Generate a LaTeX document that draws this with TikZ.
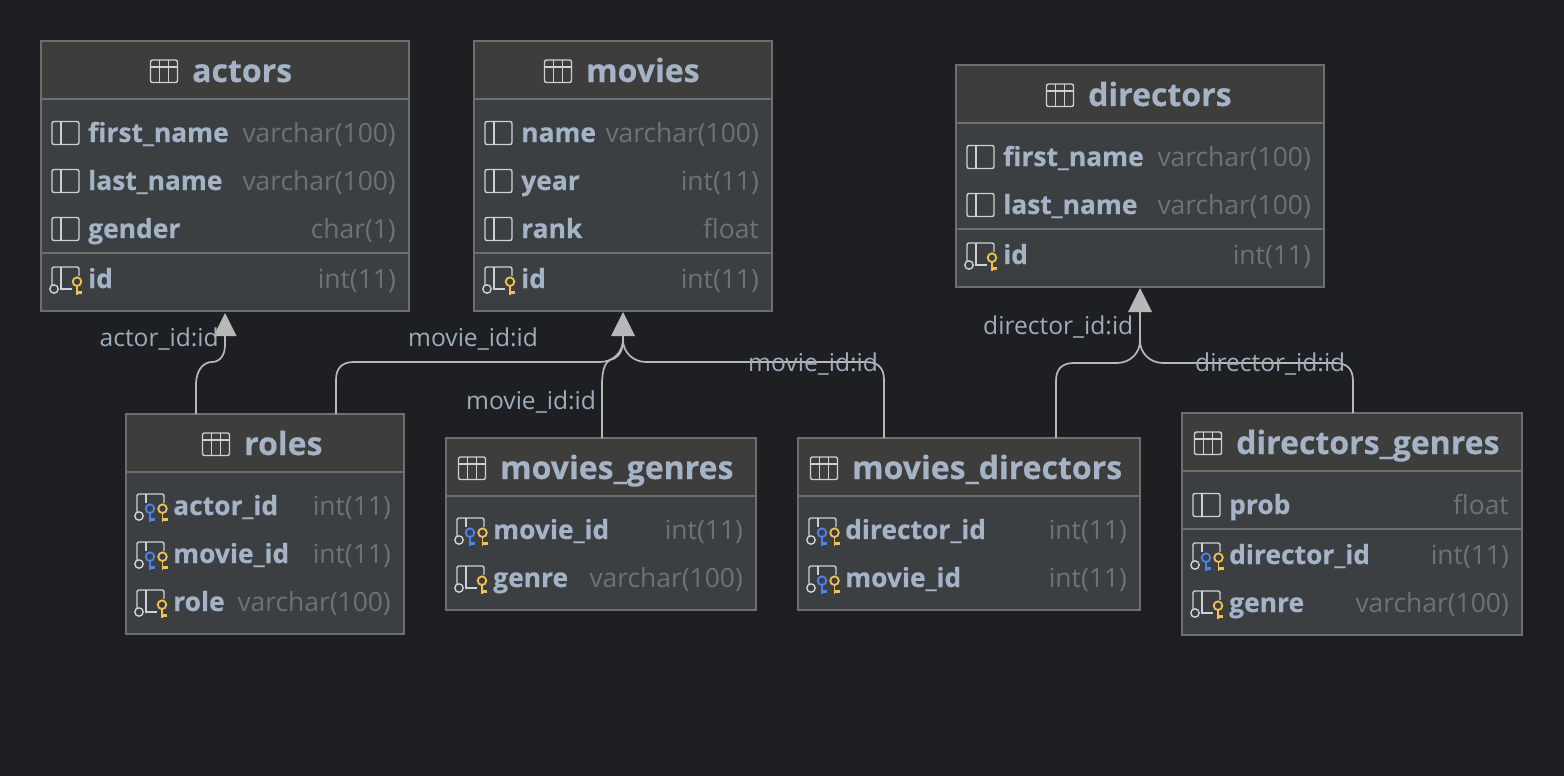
\documentclass[tikz,border=0pt]{standalone}
\usepackage{fontspec}
\setmainfont[BoldFeatures={FakeBold=0.35}]{Open Sans}

\definecolor{bgdark}{HTML}{1E1F22}
\definecolor{bodyfill}{HTML}{3B3F42}
\definecolor{headfill}{HTML}{3D3D3C}
\definecolor{edgegray}{HTML}{6E6E6E}
\definecolor{namecol}{HTML}{A5B3C6}
\definecolor{typecol}{HTML}{6C7279}
\definecolor{iconcol}{HTML}{CDD1D5}
\definecolor{labelcol}{HTML}{9FACBB}
\definecolor{linkcol}{HTML}{B8B8B8}
\definecolor{keygold}{HTML}{F2C14E}
\definecolor{keyblue}{HTML}{4C82F0}

\tikzset{
    tablebox/.style={draw=edgegray, line width=1.5pt, fill=bodyfill, rectangle, inner sep=0pt, outer sep=0pt, anchor=north west},
    titletext/.style={anchor=base west, inner sep=0pt, text=namecol, font=\fontsize{32}{36}\selectfont\bfseries},
    coltext/.style={anchor=base west, inner sep=0pt, text=namecol, font=\fontsize{26.4}{30}\selectfont\bfseries},
    typetext/.style={anchor=base east, inner sep=0pt, text=typecol, font=\fontsize{26.4}{30}\selectfont},
    linklabel/.style={inner sep=0pt, text=labelcol, font=\fontsize{24.6}{28}\selectfont},
    iconline/.style={draw=iconcol, line width=1.4pt},
    fklink/.style={draw=linkcol, line width=1.7pt},
    fktip/.style={fill=linkcol, draw=none}
}

% table: name, left, top, right, bottom, header bottom
\newcommand{\dbtable}[6]{
    \node[tablebox, minimum width=#4pt-#2pt, minimum height=#5pt-#3pt] (#1) at (#2,#3) {};
    \fill[headfill] (#2+0.7,#3+0.7) rectangle (#4-0.7,#6);
    \draw[edgegray, line width=1.5pt] (#2,#6) -- (#4,#6);
}
% title: table name, text x, baseline y, text
\newcommand{\dbtitle}[4]{
    \node[titletext] (#1title) at (#2,#3) {#4};
    \draw[iconline, rounded corners=2pt] (#2-41.5,#3-22) rectangle (#2-14.5,#3+0.5);
    \draw[iconline] (#2-41.5,#3-15) -- (#2-14.5,#3-15);
    \draw[iconline] (#2-32.5,#3-22) -- (#2-32.5,#3+0.5);
    \draw[iconline] (#2-23.5,#3-22) -- (#2-23.5,#3+0.5);
}
% icons at left x, centre y
\newcommand{\iconcol}[2]{
    \draw[iconline, rounded corners=2pt] (#1,#2-11.5) rectangle (#1+27,#2+11.5);
    \draw[iconline] (#1+9,#2-11.5) -- (#1+9,#2+11.5);
}
\newcommand{\iconframe}[2]{
    \draw[iconline, rounded corners=2pt] (#1,#2+6) -- (#1,#2-12) -- (#1+27,#2-12) -- (#1+27,#2-3);
    \draw[iconline] (#1+2,#2+10) circle (4.2);
}
\newcommand{\iconkey}[3]{
    \draw[#3, line width=1.8pt] (#1,#2+2.7) circle (4.3);
    \draw[#3, line width=1.8pt] (#1,#2+7) -- (#1,#2+15.5);
    \draw[#3, line width=2.4pt] (#1,#2+13.5) -- (#1+5,#2+13.5);
}
\newcommand{\iconpk}[2]{
    \iconframe{#1}{#2}
    \draw[iconline] (#1+9,#2-12) -- (#1+9,#2+10) -- (#1+20,#2+10);
    \iconkey{#1+25}{#2}{keygold}
}
\newcommand{\iconfk}[2]{
    \iconframe{#1}{#2}
    \draw[iconline] (#1+9,#2-12) -- (#1+9,#2-3);
    \iconkey{#1+13}{#2}{keyblue}
    \iconkey{#1+25.5}{#2}{keygold}
}
% row: icon macro, left, right, centre y, name, type
\newcommand{\dbrow}[6]{
    \csname icon#1\endcsname{#2+11}{#4}
    \node[coltext] at (#2+47,#4+9) {#5};
    \node[typetext] at (#3-13,#4+9) {#6};
}

\begin{document}
\begin{tikzpicture}[x=1pt, y=-1pt]
    \useasboundingbox[fill=bgdark] (0,0) rectangle (1564,776);

    % actors
    \dbtable{actors}{41}{41}{409}{311}{99}
    \dbtitle{actors}{192}{82}{actors}
    \dbrow{col}{41}{409}{133}{first\_name}{varchar(100)}
    \dbrow{col}{41}{409}{181}{last\_name}{varchar(100)}
    \dbrow{col}{41}{409}{229}{gender}{char(1)}
    \draw[edgegray, line width=1.5pt] (41,253) -- (409,253);
    \dbrow{pk}{41}{409}{279}{id}{int(11)}

    % movies
    \dbtable{movies}{474}{41}{772}{311}{99}
    \dbtitle{movies}{586}{82}{movies}
    \dbrow{col}{474}{772}{133}{name}{varchar(100)}
    \dbrow{col}{474}{772}{181}{year}{int(11)}
    \dbrow{col}{474}{772}{229}{rank}{float}
    \draw[edgegray, line width=1.5pt] (474,253) -- (772,253);
    \dbrow{pk}{474}{772}{279}{id}{int(11)}

    % directors
    \dbtable{directors}{956}{65}{1324}{287}{123}
    \dbtitle{directors}{1088}{106}{directors}
    \dbrow{col}{956}{1324}{157}{first\_name}{varchar(100)}
    \dbrow{col}{956}{1324}{205}{last\_name}{varchar(100)}
    \draw[edgegray, line width=1.5pt] (956,229) -- (1324,229);
    \dbrow{pk}{956}{1324}{255}{id}{int(11)}

    % roles
    \dbtable{roles}{126}{414}{404}{634}{472}
    \dbtitle{roles}{244}{455}{roles}
    \dbrow{fk}{126}{404}{506}{actor\_id}{int(11)}
    \dbrow{fk}{126}{404}{554}{movie\_id}{int(11)}
    \dbrow{pk}{126}{404}{602}{role}{varchar(100)}

    % movies_genres
    \dbtable{moviesgenres}{446}{438}{756}{610}{496}
    \dbtitle{moviesgenres}{500}{479}{movies\_genres}
    \dbrow{fk}{446}{756}{530}{movie\_id}{int(11)}
    \dbrow{pk}{446}{756}{578}{genre}{varchar(100)}

    % movies_directors
    \dbtable{moviesdirectors}{798}{438}{1140}{610}{496}
    \dbtitle{moviesdirectors}{852}{479}{movies\_directors}
    \dbrow{fk}{798}{1140}{530}{director\_id}{int(11)}
    \dbrow{fk}{798}{1140}{578}{movie\_id}{int(11)}

    % directors_genres
    \dbtable{directorsgenres}{1182}{413}{1522}{635}{471}
    \dbtitle{directorsgenres}{1236}{454}{directors\_genres}
    \dbrow{col}{1182}{1522}{505}{prob}{float}
    \draw[edgegray, line width=1.5pt] (1182,529) -- (1522,529);
    \dbrow{fk}{1182}{1522}{555}{director\_id}{int(11)}
    \dbrow{pk}{1182}{1522}{603}{genre}{varchar(100)}

    % link ends
    \coordinate (actorstip) at (225,325);
    \coordinate (moviestip) at (623,324);
    \coordinate (directorstip) at (1140,300);
    \coordinate (moviesjoin) at (623,340);
    \coordinate (directorsjoin) at (1140,341);
    \coordinate (rolesA) at (196,414);
    \coordinate (rolesB) at (336,414);
    \coordinate (genresM) at (602,438);
    \coordinate (mdM) at (884,438);
    \coordinate (mdD) at (1056,438);
    \coordinate (dgD) at (1353,413);

    % links
    \draw[fklink] (rolesA) -- (196,385) .. controls (196,368) and (205,362) .. (212,362)
        .. controls (220,362) and (225,355) .. (225,345) -- (actorstip);
    \draw[fklink] (rolesB) -- (336,380) .. controls (336,368) and (342,362) .. (354,362)
        -- (600,362) .. controls (613,362) and (623,352) .. (moviesjoin) -- (moviestip);
    \draw[fklink] (genresM) -- (602,385) .. controls (602,368) and (606,362) .. (610,360)
        .. controls (618,358) and (623,352) .. (moviesjoin);
    \draw[fklink] (mdM) -- (884,380) .. controls (884,368) and (878,362) .. (866,362)
        -- (646,362) .. controls (633,362) and (623,352) .. (moviesjoin);
    \draw[fklink] (mdD) -- (1056,381) .. controls (1056,369) and (1062,363) .. (1074,363)
        -- (1117,363) .. controls (1130,363) and (1140,353) .. (directorsjoin) -- (directorstip);
    \draw[fklink] (dgD) -- (1353,381) .. controls (1353,369) and (1347,363) .. (1335,363)
        -- (1163,363) .. controls (1150,363) and (1140,353) .. (directorsjoin);

    % arrow heads
    \fill[fktip] (225,313) -- ++(11.5,23) -- ++(-23,0) -- cycle;
    \fill[fktip] (623,312) -- ++(12,24) -- ++(-24,0) -- cycle;
    \fill[fktip] (1140,288) -- ++(12,24) -- ++(-24,0) -- cycle;

    % link labels
    \node[linklabel, anchor=base east] (lblactor) at (219,346) {actor\_id:id};
    \node[linklabel, anchor=base west] (lblmovieA) at (408,346) {movie\_id:id};
    \node[linklabel, anchor=base west] (lblmovieB) at (466,409) {movie\_id:id};
    \node[linklabel, anchor=base west] (lblmovieC) at (748,371) {movie\_id:id};
    \node[linklabel, anchor=base west] (lbldirA) at (983,334) {director\_id:id};
    \node[linklabel, anchor=base west] (lbldirB) at (1195,371) {director\_id:id};
\end{tikzpicture}
\end{document}
